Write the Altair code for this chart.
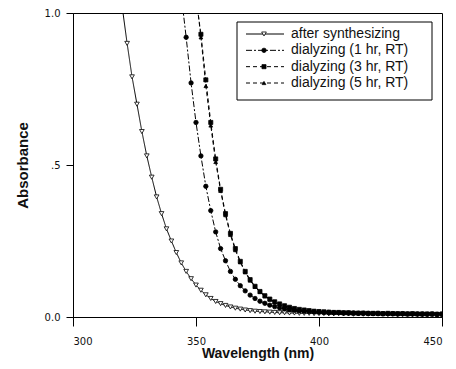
import altair as alt
import pandas as pd

series_names = ["after synthesizing", "dialyzing (1 hr, RT)", "dialyzing (3 hr, RT)", "dialyzing (5 hr, RT)"]

after_start = 318
after_vals = [1.16, 1.02, 0.90, 0.79, 0.70, 0.61, 0.53, 0.46, 0.395, 0.34,
              0.29, 0.25, 0.212, 0.178, 0.15, 0.126, 0.105, 0.088, 0.073, 0.061,
              0.051, 0.044, 0.038, 0.033, 0.029, 0.026, 0.023, 0.021, 0.019, 0.018,
              0.017, 0.016, 0.015, 0.014, 0.014, 0.013, 0.013, 0.012, 0.012, 0.012,
              0.011, 0.011, 0.011, 0.010, 0.010, 0.011, 0.010, 0.010, 0.009, 0.010,
              0.009, 0.009, 0.010, 0.009, 0.009, 0.008, 0.009, 0.008, 0.008, 0.009,
              0.008, 0.008, 0.007, 0.008, 0.008, 0.007, 0.008]

h1_start = 342
h1_vals = [1.22, 1.06, 0.92, 0.77, 0.64, 0.53, 0.43, 0.35, 0.28, 0.225,
           0.185, 0.15, 0.124, 0.103, 0.086, 0.072, 0.061, 0.052, 0.045, 0.039,
           0.034, 0.030, 0.027, 0.024, 0.022, 0.020, 0.019, 0.018, 0.017, 0.016,
           0.015, 0.015, 0.014, 0.014, 0.013, 0.013, 0.013, 0.012, 0.012, 0.012,
           0.011, 0.012, 0.011, 0.011, 0.011, 0.010, 0.011, 0.010, 0.010, 0.010,
           0.010, 0.009, 0.010, 0.009, 0.009]

h3_start = 348
h3_vals = [1.20, 1.05, 0.93, 0.78, 0.64, 0.52, 0.42, 0.34, 0.275, 0.225,
           0.183, 0.15, 0.123, 0.101, 0.084, 0.070, 0.059, 0.050, 0.043, 0.037,
           0.032, 0.028, 0.025, 0.023, 0.021, 0.019, 0.018, 0.017, 0.016, 0.015,
           0.015, 0.014, 0.014, 0.013, 0.013, 0.013, 0.012, 0.012, 0.012, 0.011,
           0.012, 0.011, 0.011, 0.011, 0.010, 0.011, 0.010, 0.010, 0.010, 0.010,
           0.009, 0.010]

h5_start = 348
h5_vals = [1.22, 1.06, 0.92, 0.76, 0.63, 0.51, 0.415, 0.335, 0.27, 0.22,
           0.18, 0.147, 0.12, 0.099, 0.082, 0.068, 0.057, 0.048, 0.041, 0.036,
           0.031, 0.027, 0.024, 0.022, 0.020, 0.019, 0.017, 0.016, 0.016, 0.015,
           0.014, 0.014, 0.013, 0.013, 0.012, 0.013, 0.012, 0.012, 0.011, 0.011,
           0.011, 0.011, 0.010, 0.011, 0.010, 0.010, 0.010, 0.009, 0.010, 0.009,
           0.009, 0.009]

x_ticks = [300, 350, 400, 450]
y_ticks = [0.0, 0.5, 1.0]

rows = []
for name, start, vals in zip(series_names,
                             [after_start, h1_start, h3_start, h5_start],
                             [after_vals, h1_vals, h3_vals, h5_vals]):
    for i, v in enumerate(vals):
        rows.append({"series": name, "wl": start + 2 * i, "abs": v})
df = pd.DataFrame(rows)
legend_df = pd.DataFrame({"series": series_names, "row": list(range(len(series_names)))})
box_df = pd.DataFrame({"k": [0]})

dash_scale = alt.Scale(domain=series_names, range=[[1, 0], [6, 2, 2, 2], [4, 3], [4, 3]])
shape_scale = alt.Scale(domain=series_names, range=["triangle-down", "circle", "square", "triangle-up"])
fill_scale = alt.Scale(domain=series_names, range=["white", "black", "black", "black"])
size_scale = alt.Scale(domain=series_names, range=[22, 14, 11, 16])

xenc = alt.X("wl:Q", scale=alt.Scale(domain=[300, 450], nice=False, zero=False),
             axis=alt.Axis(values=x_ticks, format="d", title="Wavelength (nm)",
                           tickSize=9, labelPadding=10, titleY=40, titleBaseline="alphabetic"))
yenc = alt.Y("abs:Q", scale=alt.Scale(domain=[0, 1], nice=False),
             axis=alt.Axis(values=y_ticks, title="Absorbance", tickSize=7, labelPadding=6,
                           titlePadding=14, titleFontSize=15,
                           labelExpr="datum.value == 0.5 ? '.5' : format(datum.value, '.1f')"))

lines = alt.Chart(df).mark_line(clip=True, color="black", strokeWidth=1).encode(
    x=xenc, y=yenc,
    detail="series:N",
    strokeDash=alt.StrokeDash("series:N", scale=dash_scale, legend=None),
)
points = alt.Chart(df).mark_point(clip=True, filled=True, stroke="black", strokeWidth=0.8, opacity=1).encode(
    x=xenc, y=yenc,
    shape=alt.Shape("series:N", scale=shape_scale, legend=None),
    fill=alt.Fill("series:N", scale=fill_scale, legend=None),
    size=alt.Size("series:N", scale=size_scale, legend=None),
)
main = alt.layer(lines, points)

ly = alt.Y("row:Q", scale=alt.Scale(domain=[0, 3], range=[21, 70], nice=False, zero=False), axis=None)

box = alt.Chart(box_df).mark_rect(fill="white", stroke="black", strokeWidth=1).encode(
    x=alt.value(164), x2=alt.value(359), y=alt.value(9), y2=alt.value(87))
leg_lines = alt.Chart(legend_df).mark_rule(color="black", strokeWidth=1).encode(
    x=alt.value(173), x2=alt.value(211), y=ly,
    strokeDash=alt.StrokeDash("series:N", scale=dash_scale, legend=None))
leg_pts = alt.Chart(legend_df).mark_point(filled=True, stroke="black", strokeWidth=0.8, opacity=1).encode(
    x=alt.value(191), y=ly,
    shape=alt.Shape("series:N", scale=shape_scale, legend=None),
    fill=alt.Fill("series:N", scale=fill_scale, legend=None),
    size=alt.Size("series:N", scale=size_scale, legend=None))
leg_text = alt.Chart(legend_df).mark_text(align="left", baseline="middle", font="Liberation Sans",
                                          fontSize=14, color="#111").encode(
    x=alt.value(218), y=ly, text="series:N")
legend = alt.layer(box, leg_lines, leg_pts, leg_text)

chart = alt.layer(main, legend).resolve_scale(y="independent").properties(
    width=369, height=304,
    autosize=alt.AutoSizeParams(type="none"),
    padding={"left": 65, "top": 5, "right": 6, "bottom": 44},
    background="white",
).configure_view(
    stroke="black", strokeWidth=1
).configure_axis(
    domainColor="black", tickColor="black", labelColor="#111", titleColor="#111",
    labelFont="DejaVu Sans", labelFontSize=10, grid=False,
    titleFont="Liberation Sans", titleFontSize=14, titleFontWeight="bold",
)

chart.save("out.html", embed_options={"renderer": "svg", "actions": False})
